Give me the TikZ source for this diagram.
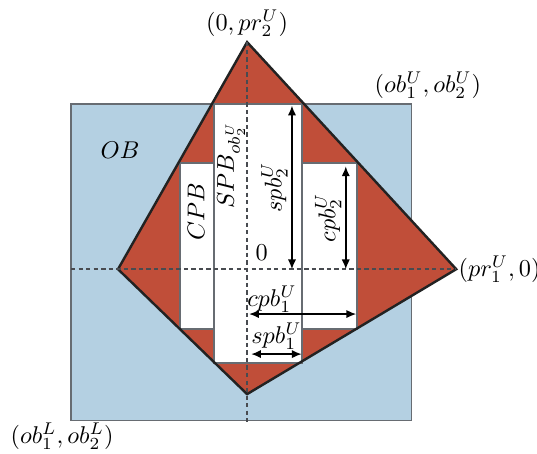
\documentclass[tikz,border=0pt]{standalone}
\usepackage{amsmath,amssymb}
\usepackage{tikz}
\usetikzlibrary{arrows.meta,positioning}
\definecolor{Celeste}{HTML}{B4D0E2}
\definecolor{Ladrillo}{HTML}{C04E39}
\definecolor{Borde}{HTML}{676C72}
\definecolor{Contorno}{HTML}{222222}

\begin{document}
\begin{tikzpicture}[>={Latex[length=4pt,width=3.4pt]},
  caja/.style={fill=white,draw=Borde,line width=0.7pt},
  eje/.style={Borde!70!black,dash pattern=on 1.8pt off 1.3pt,line width=0.6pt},
  cota/.style={<->,line width=0.6pt}]
  \useasboundingbox (-3.58,-2.67) rectangle (4.20,3.90);
  \coordinate (O) at (0,0);
  \coordinate (pT) at (0,3.29);
  \coordinate (pL) at (-1.87,0);
  \coordinate (pR) at (3.03,0);
  \coordinate (pB) at (0,-1.81);
  \coordinate (obL) at (-2.55,-2.19);
  \coordinate (obU) at (2.38,2.39);
  % OB, diamante y cajas
  \filldraw[fill=Celeste,draw=Borde,line width=0.7pt] (obL) rectangle (obU);
  \fill[Ladrillo] (pT)--(pR)--(pB)--(pL)--cycle;
  \draw[caja] (-0.97,-0.87) rectangle (1.59,1.54);
  \draw[caja] (-0.48,-1.36) rectangle (0.80,2.39);
  \draw[Contorno,line width=1pt,line join=miter] (pT)--(pR)--(pB)--(pL)--cycle;
  % ejes
  \coordinate (ejeAbajo) at (0,-2.23);
  \coordinate (ejeIzq) at (-2.55,0);
  \draw[eje] (pT)--(ejeAbajo);
  \draw[eje] (ejeIzq)--(pR);
  % cotas
  \coordinate (s2a) at (0.65,0);
  \coordinate (s2b) at (0.65,2.37);
  \coordinate (c2a) at (1.43,0);
  \coordinate (c2b) at (1.43,1.49);
  \coordinate (c1a) at (0.03,-0.65);
  \coordinate (c1b) at (1.58,-0.65);
  \coordinate (s1a) at (0.06,-1.23);
  \coordinate (s1b) at (0.79,-1.23);
  \draw[cota] (s2a)--node[above,sloped,inner sep=1.5pt] (lblSpb2) {$spb_2^U$} (s2b);
  \draw[cota] (c2a)--node[above,sloped,inner sep=1.5pt] (lblCpb2) {$cpb_2^U$} (c2b);
  \draw[cota] (c1a)--(c1b);
  \node (lblCpb1) at (0.36,-0.44) {$cpb_1^U$};
  \draw[cota] (s1a)--node[above,inner sep=1.5pt] (lblSpb1) {$spb_1^U$} (s1b);
  % etiquetas
  \node (lblOB) at (-1.84,1.72) {$OB$};
  \node[rotate=90] (lblCPB) at (-0.74,0.83) {$CPB$};
  \node[rotate=90] (lblSPB) at (-0.23,1.51) {$SPB_{ob_2^U}$};
  \node[above right] (lblO) at (O) {$0$};
  \node[above,inner sep=2pt] (lblTop) at (pT) {$(0,pr_2^U)$};
  \node[right,inner sep=0.8pt] (lblRight) at (pR) {$(pr_1^U,0)$};
  \node[anchor=south,inner sep=1.5pt] (lblObU) at (2.62,2.41) {$(ob_1^U,ob_2^U)$};
  \node[anchor=north,inner sep=1pt] (lblObL) at (-2.68,-2.19) {$(ob_1^L,ob_2^L)$};
\end{tikzpicture}
\end{document}
